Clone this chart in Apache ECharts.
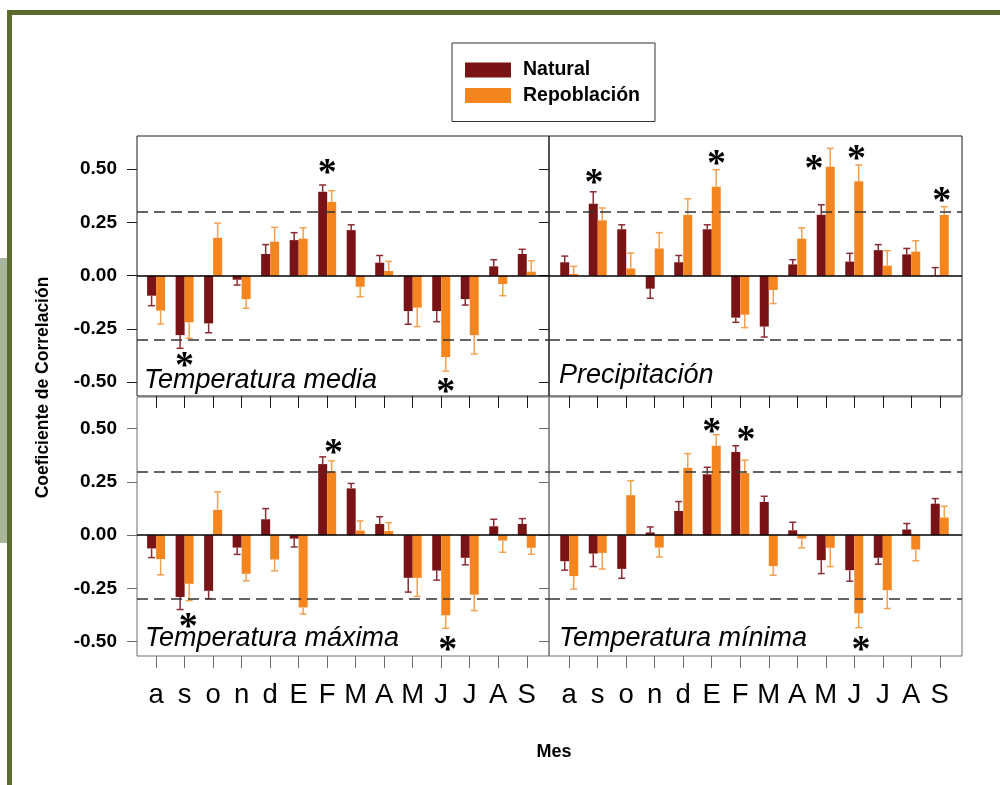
<!DOCTYPE html>
<html>
<head>
<meta charset="utf-8">
<script src="https://cdn.jsdelivr.net/npm/echarts@6/dist/echarts.min.js"></script>
<style>
html,body{margin:0;padding:0;background:#fff;}
#chart{width:1000px;height:785px;}
</style>
</head>
<body>
<div id="chart"></div>
<script>
// ---------- DATA ----------
const cats = ['a','s','o','n','d','E','F','M','A','M','J','J','A','S'];
const yTicks = [-0.5, -0.25, 0, 0.25, 0.5];
const xTicks = [0,1,2,3,4,5,6,7,8,9,10,11,12,13];
const sigLines = [0.3, -0.3];
const seriesNames = ['Natural', 'Repoblación'];
const panelTitles = ['Temperatura media', 'Precipitación', 'Temperatura máxima', 'Temperatura mínima'];

// Temperatura media
const natMedia    = [-0.094,-0.279,-0.224,-0.019, 0.102, 0.167, 0.394, 0.214, 0.061,-0.166,-0.166,-0.110, 0.044, 0.102];
const natMediaErr = [-0.141,-0.341,-0.268,-0.044, 0.146, 0.202, 0.426, 0.239, 0.095,-0.228,-0.216,-0.138, 0.075, 0.124];
const repMedia    = [-0.164,-0.219, 0.178,-0.110, 0.160, 0.174, 0.346,-0.052, 0.022,-0.150,-0.382,-0.279,-0.039, 0.019];
const repMediaErr = [-0.227,-0.294, 0.247,-0.153, 0.227, 0.225, 0.399,-0.099, 0.067,-0.239,-0.448,-0.368,-0.094, 0.070];
const starsMedia  = [[1,-0.396],[6,0.512],[10.16,-0.518]];

// Precipitación
const natPrec    = [0.063, 0.338, 0.218,-0.061, 0.063, 0.218,-0.197,-0.239, 0.053, 0.286, 0.066, 0.120, 0.100, 0.002];
const natPrecErr = [0.092, 0.394, 0.239,-0.106, 0.095, 0.239,-0.219,-0.288, 0.075, 0.333, 0.105, 0.146, 0.128, 0.038];
const repPrec    = [0.008, 0.260, 0.034, 0.128, 0.285, 0.418,-0.183,-0.067, 0.174, 0.512, 0.444, 0.047, 0.113, 0.285];
const repPrecErr = [0.044, 0.318, 0.106, 0.202, 0.361, 0.498,-0.244,-0.131, 0.225, 0.598, 0.520, 0.117, 0.164, 0.324];
const starsPrec  = [[0.87,0.465],[5.17,0.551],[8.59,0.528],[10.08,0.575],[13.07,0.379]];

// Temperatura máxima
const natMax    = [-0.062,-0.290,-0.261,-0.058, 0.075,-0.016, 0.334, 0.220, 0.053,-0.200,-0.166,-0.106, 0.042, 0.053];
const natMaxErr = [-0.105,-0.349,-0.298,-0.090, 0.125,-0.055, 0.368, 0.243, 0.087,-0.267,-0.211,-0.139, 0.075, 0.078];
const repMax    = [-0.112,-0.228, 0.119,-0.181,-0.114,-0.339, 0.300, 0.022, 0.020,-0.200,-0.376,-0.279,-0.025,-0.059];
const repMaxErr = [-0.186,-0.307, 0.204,-0.214,-0.167,-0.370, 0.349, 0.067, 0.059,-0.287,-0.437,-0.354,-0.080,-0.089];
const starsMax  = [[1.13,-0.402],[6.22,0.416],[10.23,-0.512]];

// Temperatura mínima
const natMin    = [-0.122,-0.086,-0.158, 0.013, 0.114, 0.286, 0.391, 0.156, 0.023,-0.117,-0.164,-0.106, 0.027, 0.148];
const natMinErr = [-0.164,-0.147,-0.202, 0.039, 0.158, 0.319, 0.420, 0.183, 0.061,-0.180,-0.216,-0.136, 0.055, 0.172];
const repMin    = [-0.192,-0.083, 0.188,-0.058, 0.316, 0.420, 0.292,-0.145,-0.016,-0.059,-0.367,-0.258,-0.067, 0.083];
const repMinErr = [-0.253,-0.159, 0.256,-0.102, 0.383, 0.472, 0.352,-0.188,-0.059,-0.147,-0.434,-0.344,-0.120, 0.136];
const starsMin  = [[5.0,0.512],[6.2,0.475],[10.24,-0.512]];

// ---------- STYLE / LAYOUT ----------
const NAT = '#7a1315', REP = '#f5861f';
const NAT_ERR = '#8c2d35', REP_ERR = '#f6a050';
const panelData = [
  [natMedia, natMediaErr, repMedia, repMediaErr, starsMedia],
  [natPrec, natPrecErr, repPrec, repPrecErr, starsPrec],
  [natMax, natMaxErr, repMax, repMaxErr, starsMax],
  [natMin, natMinErr, repMin, repMinErr, starsMin]
];
const layout = [
  {left:137, top:136, width:412, height:260, yMin:-0.565, yMax:0.656, xMin:-0.67, xMax:13.78, yLab:true,  xLab:false, border:'#1a1a1a', tx:144, ty:380},
  {left:549, top:136, width:413, height:260, yMin:-0.565, yMax:0.656, xMin:-0.71, xMax:13.78, yLab:false, xLab:false, border:'#1a1a1a', tx:559, ty:375},
  {left:137, top:397, width:412, height:259, yMin:-0.567, yMax:0.649, xMin:-0.67, xMax:13.78, yLab:true,  xLab:true,  border:'#6e6e6e', tx:145, ty:638},
  {left:549, top:397, width:413, height:259, yMin:-0.567, yMax:0.649, xMin:-0.71, xMax:13.78, yLab:false, xLab:true,  border:'#6e6e6e', tx:559, ty:638}
];
const STAR_FONT = 38;

const grids = [], xAxes = [], yAxes = [], series = [], graphics = [];

layout.forEach((L, i) => {
  const [nat, natErr, rep, repErr, stars] = panelData[i];
  grids.push({left:L.left, top:L.top, width:L.width, height:L.height, show:true,
    borderColor:L.border, borderWidth:1, backgroundColor:'transparent', containLabel:false});
  xAxes.push({gridIndex:i, type:'value', min:L.xMin, max:L.xMax, position:'bottom',
    axisLine:{show:false, onZero:false}, splitLine:{show:false},
    axisTick:{show:true, inside:false, length:12, customValues:xTicks, lineStyle:{color:L.border, width:1}},
    axisLabel:{show:L.xLab, customValues:xTicks, formatter:v => cats[Math.round(v)],
      fontFamily:'"Liberation Sans", Arial, sans-serif', fontSize:27.5, color:'#000', margin:25}});
  yAxes.push({gridIndex:i, type:'value', min:L.yMin, max:L.yMax, position:'left',
    axisLine:{show:false, onZero:false}, splitLine:{show:false},
    axisTick:{show:true, inside:false, length:10, customValues:yTicks, lineStyle:{color:L.border, width:1}},
    axisLabel:{show:L.yLab, customValues:yTicks, formatter:v => v.toFixed(2),
      fontFamily:'"Liberation Sans", Arial, sans-serif', fontWeight:'bold', fontSize:19, color:'#000', margin:20}});

  series.push({name:seriesNames[0], type:'bar', xAxisIndex:i, yAxisIndex:i,
    data:nat.map((v,k)=>[k,v]), barWidth:9, barGap:'0%', itemStyle:{color:NAT},
    markLine:{silent:true, symbol:'none', label:{show:false}, animation:false, z:5,
      data:[
        {yAxis:0, lineStyle:{type:'solid', color:'#000', width:1.5}},
        {yAxis:sigLines[0], lineStyle:{type:[11,6], color:'#333', width:1.5}},
        {yAxis:sigLines[1], lineStyle:{type:[11,6], color:'#333', width:1.5}}
      ]}});
  series.push({name:seriesNames[1], type:'bar', xAxisIndex:i, yAxisIndex:i,
    data:rep.map((v,k)=>[k,v]), barWidth:9, barGap:'0%', itemStyle:{color:REP}});

  const errData = nat.map((v,k)=>[k, v, natErr[k], 0]).concat(rep.map((v,k)=>[k, v, repErr[k], 1]));
  series.push({name:'err'+i, type:'custom', xAxisIndex:i, yAxisIndex:i, z:4,
    encode:{x:0, y:[1,2]}, data:errData,
    renderItem:(params, api) => {
      const x = api.value(0), v = api.value(1), t = api.value(2), s = api.value(3);
      const p0 = api.coord([x, v]), p1 = api.coord([x, t]);
      const dx = s === 0 ? -4.5 : 4.5;
      const c = s === 0 ? NAT_ERR : REP_ERR;
      return {type:'group', children:[
        {type:'line', shape:{x1:p0[0]+dx, y1:p0[1], x2:p1[0]+dx, y2:p1[1]}, style:{stroke:c, lineWidth:1.5}},
        {type:'line', shape:{x1:p1[0]+dx-3.5, y1:p1[1], x2:p1[0]+dx+3.5, y2:p1[1]}, style:{stroke:c, lineWidth:1.5}}
      ]};
    }});
  series.push({name:'stars'+i, type:'custom', xAxisIndex:i, yAxisIndex:i, z:6,
    encode:{x:0, y:1}, data:stars,
    renderItem:(params, api) => {
      const p = api.coord([api.value(0), api.value(1)]);
      return {type:'text', x:p[0], y:p[1] + STAR_FONT*0.19,
        style:{text:'*', fill:'#000', font:'bold '+STAR_FONT+'px "Liberation Serif", serif',
          textAlign:'center', textVerticalAlign:'middle'}};
    }});

  graphics.push({type:'text', x:L.tx, y:L.ty, z:10,
    style:{text:panelTitles[i], fill:'#000', font:'italic 27px "Liberation Sans", Arial, sans-serif',
      textAlign:'left', textVerticalAlign:'middle'}});
});

// frame & axis titles
graphics.push({type:'rect', shape:{x:0, y:258, width:7, height:285}, style:{fill:'#a9b59b'}, z:1});
graphics.push({type:'rect', shape:{x:7, y:10, width:993, height:5}, style:{fill:'#5c6b2e'}, z:2});
graphics.push({type:'rect', shape:{x:7, y:10, width:5, height:775}, style:{fill:'#5c6b2e'}, z:2});
graphics.push({type:'text', x:43, y:387.5, rotation:Math.PI/2, z:10,
  style:{text:'Coeficiente de Correlación', fill:'#000', font:'bold 17.5px "Liberation Sans", Arial, sans-serif',
    textAlign:'center', textVerticalAlign:'middle'}});
graphics.push({type:'text', x:554, y:752, z:10,
  style:{text:'Mes', fill:'#000', font:'bold 18px "Liberation Sans", Arial, sans-serif',
    textAlign:'center', textVerticalAlign:'middle'}});

const option = {
  animation:false,
  backgroundColor:'#fff',
  legend:{data:seriesNames, orient:'vertical', left:452, top:43, icon:'rect',
    itemWidth:46, itemHeight:15, itemGap:5.5, padding:[17,15,16,13],
    borderColor:'#333', borderWidth:1, backgroundColor:'#fff',
    textStyle:{fontFamily:'"Liberation Sans", Arial, sans-serif', fontWeight:'bold', fontSize:19.5, color:'#000',
      lineHeight:20, padding:[0,0,0,7]}},
  grid:grids, xAxis:xAxes, yAxis:yAxes, series:series, graphic:graphics
};
const chart = echarts.init(document.getElementById('chart'), null, {renderer:'canvas'});
chart.setOption(option);
</script>
</body>
</html>
